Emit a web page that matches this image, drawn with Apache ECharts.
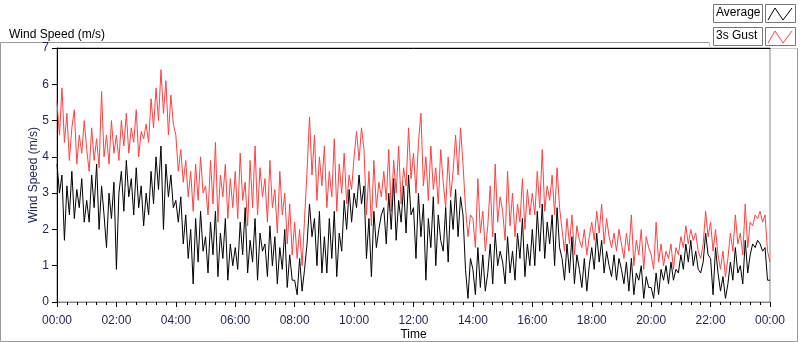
<!DOCTYPE html>
<html>
<head>
<meta charset="utf-8">
<script src="https://cdn.jsdelivr.net/npm/echarts@6/dist/echarts.min.js"></script>
<style>
  html, body { margin: 0; padding: 0; background: #fff; }
  #chart { width: 800px; height: 342px; }
</style>
</head>
<body>
<div id="chart"></div>
<script>
// one reading every 5 minutes, 12 per row = 1 hour
var stepMinutes = 5;

var gust = [
  5.5,4.6,5.9,4.4,5.2,3.9,4.8,5.3,3.8,4.6,4.1,5.0, // 00
  4.2,3.6,4.8,3.9,4.5,3.7,5.8,4.0,4.6,3.8,5.0,4.1, // 01
  4.6,3.9,5.0,4.3,5.2,4.1,4.8,4.4,5.3,4.0,4.7,4.5, // 02
  4.9,4.4,5.6,4.8,5.9,5.0,6.4,5.2,6.1,4.6,5.7,4.9, // 03
  4.6,3.6,4.2,3.3,3.9,2.9,3.6,2.5,3.8,2.8,4.0,3.0, // 04
  3.2,2.4,3.9,2.7,4.4,2.2,3.5,2.9,3.8,2.3,3.4,2.6, // 05
  3.6,2.3,4.1,2.8,3.3,2.1,3.9,2.6,4.3,2.4,3.7,2.9, // 06
  3.4,2.2,3.9,2.6,3.1,1.9,3.6,2.4,3.0,1.6,2.7,1.3, // 07
  2.2,1.2,2.0,1.0,2.3,3.6,5.1,3.5,4.6,2.8,4.0,3.2, // 08
  4.3,2.6,3.6,2.9,4.5,2.5,3.8,3.0,4.1,2.7,3.5,3.1, // 09
  4.0,4.7,3.9,4.8,4.2,2.4,3.6,2.1,3.9,2.6,3.3,2.9, // 10
  3.6,2.8,4.2,2.5,3.9,3.0,4.3,2.7,3.7,3.2,4.8,3.4, // 11
  4.1,3.0,4.4,5.2,3.2,4.0,2.8,4.3,3.1,3.7,2.7,4.2, // 12
  3.3,2.6,4.0,2.9,3.6,4.6,3.5,4.8,3.8,2.6,1.8,2.4, // 13
  2.3,1.5,3.4,1.9,2.5,1.4,2.1,3.2,1.8,3.8,2.2,2.9, // 14
  2.5,1.7,3.6,2.1,3.0,1.8,2.7,2.2,3.4,2.0,3.1,2.4, // 15
  3.0,2.4,3.6,2.6,4.2,2.5,3.2,2.8,3.5,2.4,3.7,2.6, // 16
  2.0,1.4,2.3,1.6,2.4,1.3,2.1,1.7,1.5,2.0,1.3,1.8, // 17
  2.2,1.7,2.5,1.9,2.7,1.6,2.3,1.8,1.5,1.9,1.4,2.0, // 18
  1.6,1.2,1.9,1.4,2.4,1.0,1.7,1.3,2.0,0.9,1.8,1.5, // 19
  1.3,0.9,2.2,1.1,1.6,1.0,1.4,1.2,1.6,0.9,1.5,1.3, // 20
  1.8,1.5,2.1,1.6,2.0,1.7,1.9,1.4,1.2,1.6,2.5,1.8, // 21
  2.2,1.4,2.0,1.3,0.9,1.4,0.7,1.2,1.9,1.4,2.4,1.6, // 22
  1.9,1.3,2.7,1.5,2.2,2.1,2.4,2.3,2.5,2.2,2.4,1.4, // 23
  1.1
];

var average = [
  3.8,3.0,3.5,1.7,3.2,2.4,3.6,2.3,3.1,2.6,3.4,2.2, // 00
  2.8,2.2,3.5,2.6,3.8,2.0,3.2,2.4,1.5,3.0,2.3,3.3, // 01
  0.9,3.0,3.6,2.5,3.9,2.9,3.4,2.4,3.7,2.6,3.2,2.1, // 02
  3.0,2.4,3.6,2.7,4.0,3.1,4.3,2.0,3.8,2.9,3.5,2.6, // 03
  2.8,2.2,2.9,1.6,2.4,1.2,2.0,0.5,2.3,1.1,2.5,1.4, // 04
  1.8,0.8,2.2,1.3,2.5,0.7,1.9,1.2,2.3,0.6,1.6,1.0, // 05
  1.5,0.9,2.2,1.3,2.6,0.8,1.7,1.1,2.3,0.6,1.9,1.4, // 06
  1.6,0.7,2.1,1.0,1.8,0.5,1.5,0.9,2.0,0.4,1.3,0.6, // 07
  0.6,0.2,1.2,0.3,0.9,1.6,2.7,1.8,2.3,1.0,2.5,0.8, // 08
  1.8,0.8,2.3,1.2,2.5,0.7,1.9,1.4,2.8,2.0,3.1,2.2, // 09
  3.0,2.6,3.5,2.7,3.2,1.2,2.3,0.7,2.5,1.5,2.0,2.4, // 10
  2.6,1.6,3.0,2.0,3.4,1.7,2.8,2.2,3.2,1.9,3.5,2.4, // 11
  2.6,1.2,3.0,1.8,2.7,0.6,2.3,1.5,2.9,1.0,2.4,1.7, // 12
  1.4,2.6,1.1,2.8,2.0,3.1,1.8,2.9,2.4,0.9,0.1,1.2, // 13
  0.9,0.2,1.5,0.4,1.3,0.3,0.8,1.6,0.5,1.9,1.0,1.4, // 14
  1.1,0.5,1.8,0.8,1.4,0.6,1.9,1.2,2.3,0.7,1.6,1.0, // 15
  2.0,1.0,2.5,1.4,2.7,1.2,2.2,1.6,2.4,1.0,2.6,1.5, // 16
  1.2,0.6,1.6,0.8,1.8,0.5,1.3,0.9,0.4,1.2,0.3,1.0, // 17
  1.5,0.9,1.9,1.1,1.7,0.8,1.4,1.0,0.7,1.3,0.6,1.2, // 18
  0.9,0.5,1.1,0.3,1.2,0.2,0.8,0.6,1.0,0.1,0.7,0.4, // 19
  0.4,0.1,0.8,0.2,0.9,0.6,1.0,0.5,1.1,0.6,0.9,0.8, // 20
  1.3,0.9,1.6,1.1,1.7,1.0,1.4,0.9,0.8,1.1,1.9,1.3, // 21
  1.2,0.2,1.5,0.8,0.3,0.7,0.1,0.5,1.1,0.6,1.5,0.8, // 22
  1.0,0.5,1.7,0.8,1.3,1.6,1.5,1.7,1.6,1.4,1.5,0.6, // 23
  0.6
];

var yTicks = [0, 1, 2, 3, 4, 5, 6, 7];

function pairs(arr) {
  var out = [];
  for (var i = 0; i < arr.length; i++) out.push([i * stepMinutes, arr[i]]);
  return out;
}

function hhmm(v) {
  var m = v % 1440;
  var h = Math.floor(m / 60), mm = m % 60;
  return (h < 10 ? '0' : '') + h + ':' + (mm < 10 ? '0' : '') + mm;
}

var font = 'Liberation Sans, Arial, sans-serif';
var labelColor = '#1c2450';

var myChart = echarts.init(document.getElementById('chart'));
myChart.setOption({
    animation: false,
    title: {
        text: 'Wind Speed (m/s)',
        left: 4,
        top: 24,
        textStyle: { fontSize: 12, fontWeight: 'normal', color: '#000', fontFamily: font }
    },
    grid: {
        left: 57, top: 48, right: 30, bottom: 40,
        outerBoundsMode: 'none',
        show: true, borderColor: '#888', borderWidth: 1
    },
    xAxis: [{
        type: 'value',
        min: 0, max: 1440, interval: 120,
        name: 'Time',
        nameLocation: 'middle',
        nameGap: 27,
        nameMoveOverlap: false,
        nameTextStyle: { fontSize: 12, color: '#000', fontFamily: font },
        axisLine: { lineStyle: { color: '#888' } },
        axisTick: { show: true, length: 5, lineStyle: { color: '#000' } },
        minorTick: { show: true, splitNumber: 6, length: 3, lineStyle: { color: '#000' } },
        axisLabel: { formatter: hhmm, fontSize: 12, color: labelColor, fontFamily: font, margin: 13 },
        splitLine: { show: false }
    }, {
        type: 'value', position: 'top', min: 0, max: 1440,
        axisLine: { show: true, lineStyle: { color: '#000' } },
        axisTick: { show: false }, axisLabel: { show: false }, splitLine: { show: false }
    }],
    yAxis: {
        type: 'value',
        min: yTicks[0], max: yTicks[yTicks.length - 1], interval: 1,
        name: 'Wind Speed (m/s)',
        nameLocation: 'middle',
        nameGap: 17,
        nameMoveOverlap: false,
        nameTextStyle: { fontSize: 12, color: labelColor, fontFamily: font },
        axisLine: { show: true, lineStyle: { color: '#000' } },
        axisTick: { show: true, length: 5, lineStyle: { color: '#000' } },
        axisLabel: { fontSize: 12, color: labelColor, fontFamily: font, margin: 8 },
        splitLine: { show: false }
    },
    series: [
        {
            name: '3s Gust', type: 'line', data: pairs(gust),
            showSymbol: false, lineStyle: { width: 1, color: '#ff4040' }, itemStyle: { color: '#ff4040' }, z: 2
        },
        {
            name: 'Average', type: 'line', data: pairs(average),
            showSymbol: false, lineStyle: { width: 1, color: '#000' }, itemStyle: { color: '#000' }, z: 3
        }
    ],
    graphic: [
        // outer frame
        { type: 'polyline', silent: true, shape: { points: [[709, 42.5], [0.5, 42.5], [0.5, 341.5], [797.5, 341.5], [797.5, 48]] },
          style: { stroke: '#999', fill: null, lineWidth: 1 } },
        { type: 'polyline', silent: true, shape: { points: [[709.5, 42], [709.5, 48.5], [797.5, 48.5]] },
          style: { stroke: '#ccc', fill: null, lineWidth: 1 } },
        // legend
        { type: 'rect', shape: { x: 713.5, y: 4.5, width: 49, height: 18 }, style: { fill: '#fff', stroke: '#777' } },
        { type: 'text', left: 716, top: 7, style: { text: 'Average', fontSize: 12, fontFamily: font, fill: '#000' } },
        { type: 'rect', shape: { x: 765.5, y: 4.5, width: 30, height: 18 }, style: { fill: '#fff', stroke: '#777' } },
        { type: 'polyline', shape: { points: [[768, 20], [775, 8], [783, 20], [792, 8]] }, style: { stroke: '#000', fill: null, lineWidth: 1 } },
        { type: 'rect', shape: { x: 713.5, y: 27.5, width: 49, height: 18 }, style: { fill: '#fff', stroke: '#777' } },
        { type: 'text', left: 716, top: 30, style: { text: '3s Gust', fontSize: 12, fontFamily: font, fill: '#000' } },
        { type: 'rect', shape: { x: 765.5, y: 27.5, width: 30, height: 18 }, style: { fill: '#fff', stroke: '#777' } },
        { type: 'polyline', shape: { points: [[768, 43], [775, 31], [783, 43], [792, 31]] }, style: { stroke: '#ff4040', fill: null, lineWidth: 1 } }
    ]
});
</script>
</body>
</html>
